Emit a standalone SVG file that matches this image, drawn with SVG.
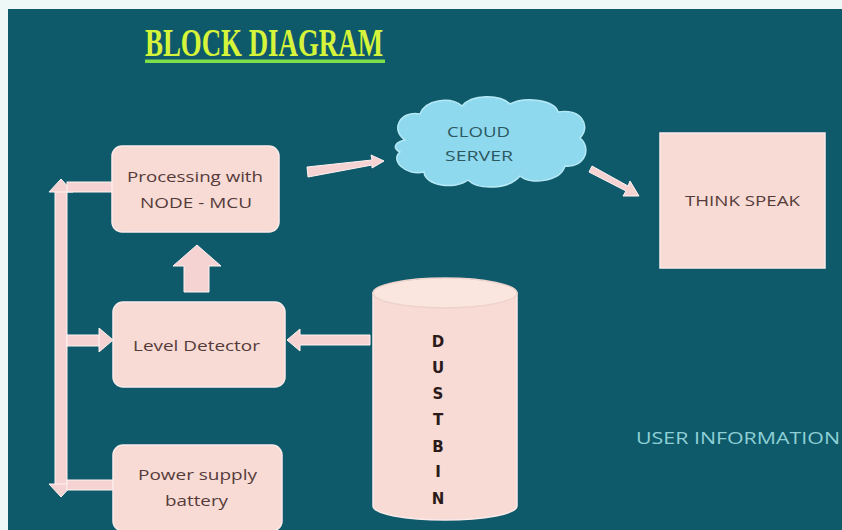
<svg xmlns="http://www.w3.org/2000/svg" width="842" height="530" viewBox="0 0 842 530">
<style>
.box{fill:#f8dbd4;stroke:#fbeaea;stroke-width:1.5}
.lbl{font-family:"Open Sans","Liberation Sans",sans-serif;font-size:15px;fill:#553a3a;lengthAdjust:spacingAndGlyphs}
.conn{fill:#f6d3d3;stroke:#fff2f2;stroke-width:1}
</style>
<rect x="0" y="0" width="842" height="530" fill="#eef8f6"/>
<rect x="8" y="9" width="834" height="521" fill="#0e5a6a"/>
<g id="title">
<text x="145" y="56" font-family="Liberation Serif,serif" font-weight="bold" font-size="40" fill="#d6f53a" textLength="238" lengthAdjust="spacingAndGlyphs">BLOCK DIAGRAM</text>
<rect x="145" y="59.5" width="240" height="3.5" fill="#7be04a"/>
</g>
<g id="connectors">
<rect class="conn" x="55" y="190" width="12" height="296"/>
<polygon class="conn" points="49,192 61,179 73,192"/>
<polygon class="conn" points="49,484 61,497 73,484"/>
<rect class="conn" x="67" y="182" width="45" height="10"/>
<rect class="conn" x="67" y="480" width="46" height="10"/>
<rect class="conn" x="67" y="335" width="33" height="11"/>
<polygon class="conn" points="99,328 113,340 99,352"/>
<polygon class="conn" points="184,292 184,266 173,266 197,245 221,266 209,266 209,292"/>
<polygon class="conn" points="370,335 300,335 300,329 287,340 300,351 300,345 370,345"/>
<polygon class="conn" points="307,167 372,160 371,155 384,161 372,168 372,165 308,177"/>
<polygon class="conn" points="592,166 628,186 630,181 639,196 623,196 626,191 589,172"/>
</g>
<g id="processing">
<rect class="box" x="112" y="146" width="167" height="86" rx="10"/>
<text class="lbl" x="127" y="182" textLength="136" lengthAdjust="spacingAndGlyphs">Processing with</text>
<text class="lbl" x="140" y="208" textLength="112" lengthAdjust="spacingAndGlyphs">NODE - MCU</text>
</g>
<g id="level">
<rect class="box" x="113" y="302" width="172" height="85" rx="10"/>
<text class="lbl" x="133" y="351" textLength="127" lengthAdjust="spacingAndGlyphs">Level Detector</text>
</g>
<g id="power">
<rect class="box" x="113" y="445" width="169" height="86" rx="10"/>
<text class="lbl" x="138" y="480" textLength="119" lengthAdjust="spacingAndGlyphs">Power supply</text>
<text class="lbl" x="165" y="506" textLength="63" lengthAdjust="spacingAndGlyphs">battery</text>
</g>
<g id="cloud">
<path d="M405,140 C390,130 400,110 420,114 C425,100 450,96 462,106 C472,94 500,94 510,104 C525,96 555,100 558,112 C580,108 592,125 580,138 C592,148 585,168 565,166 C560,182 530,185 520,176 C508,190 478,190 468,180 C455,190 425,186 424,172 C405,176 390,160 400,152 C392,148 395,142 405,140 Z" fill="#8fd9ef" stroke="#b6e9f6" stroke-width="1.5"/>
<text x="447" y="137" font-family="Open Sans,Liberation Sans,sans-serif" font-size="14" fill="#2d5860" textLength="63" lengthAdjust="spacingAndGlyphs">CLOUD</text>
<text x="445" y="161" font-family="Open Sans,Liberation Sans,sans-serif" font-size="14" fill="#2d5860" textLength="68" lengthAdjust="spacingAndGlyphs">SERVER</text>
</g>
<g id="thinkspeak">
<rect x="660" y="133" width="165" height="135" fill="#f8dbd4" stroke="#fbeaea" stroke-width="1.5"/>
<text class="lbl" x="685" y="206" font-size="13" textLength="115" lengthAdjust="spacingAndGlyphs">THINK SPEAK</text>
</g>
<g id="dustbin">
<path d="M373,293 L373,506 A72,14 0 0 0 517,506 L517,293 Z" fill="#f8dbd4" stroke="#fbeaea" stroke-width="1.5"/>
<ellipse cx="445" cy="293" rx="72" ry="15" fill="#fae6df" stroke="#eed2cc" stroke-width="1.5"/>
<g font-family="DejaVu Sans,Liberation Sans,sans-serif" font-weight="bold" font-size="15" fill="#2a1a1a" text-anchor="middle">
<text x="438" y="347">D</text>
<text x="438" y="373">U</text>
<text x="438" y="399">S</text>
<text x="438" y="425">T</text>
<text x="438" y="452">B</text>
<text x="438" y="477">I</text>
<text x="438" y="504">N</text>
</g>
</g>
<g id="userinfo">
<text x="636" y="444" font-family="Open Sans,Liberation Sans,sans-serif" font-size="17" fill="#8fd0d6" textLength="204" lengthAdjust="spacingAndGlyphs">USER INFORMATION</text>
</g>
</svg>
